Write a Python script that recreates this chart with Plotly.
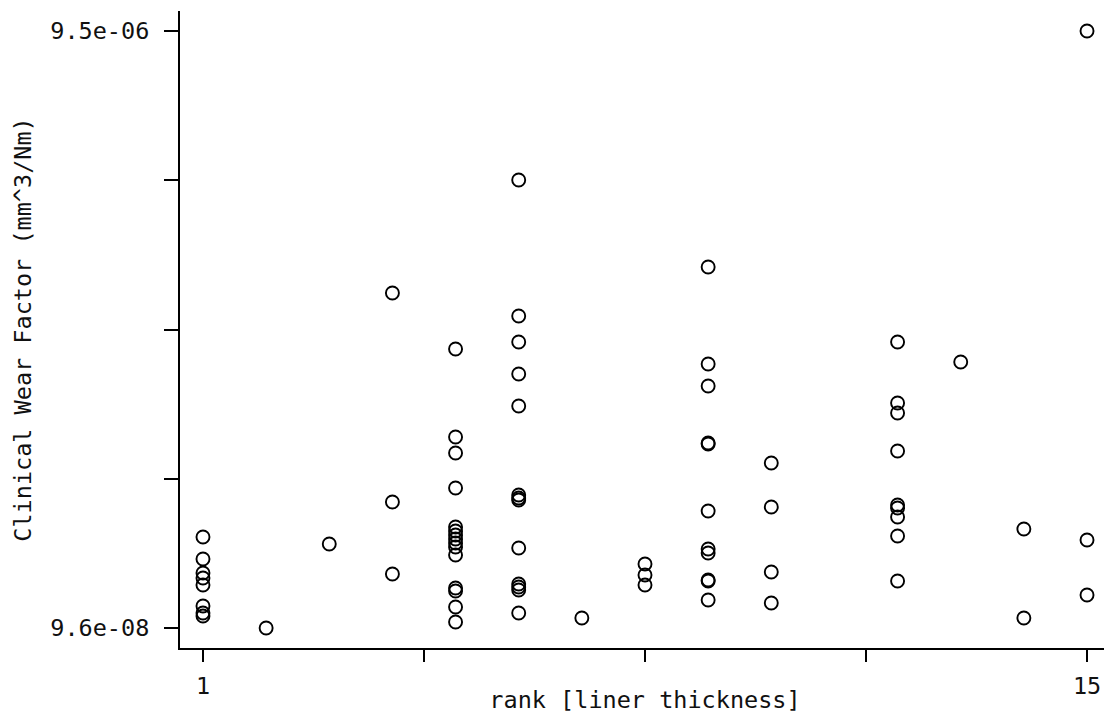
import plotly.graph_objects as go

# rank [liner thickness] per group, and wear factors (in units of 1e-6 mm^3/Nm)
ranks = [1, 2, 3, 4, 5, 6, 7, 8, 9, 10, 12, 13, 14, 15]
wear_e6 = [
    [1.529, 1.183, 0.962, 0.884, 0.773, 0.443, 0.332, 0.285],
    [0.096],
    [1.419],
    [5.373, 2.081, 0.947],
    [4.491, 3.105, 2.853, 2.301, 1.687, 1.624, 1.561, 1.498, 1.435, 1.372, 1.246,
     0.726, 0.679, 0.427, 0.190],
    [7.153, 5.011, 4.601, 4.097, 3.593, 2.191, 2.144, 2.112, 1.356, 0.789, 0.742,
     0.695, 0.332],
    [0.254],
    [1.104, 0.931, 0.773],
    [5.783, 4.255, 3.908, 3.010, 2.994, 1.939, 1.340, 1.277, 0.852, 0.836, 0.537],
    [2.695, 2.002, 0.978, 0.490],
    [4.601, 3.640, 3.483, 2.884, 2.033, 1.986, 1.844, 1.545, 0.836],
    [4.286],
    [1.655, 0.254],
    [9.500, 1.482, 0.616],
]

x_ticks = [1, 4.5, 8, 11.5, 15]
x_ticklabels = ["1", "", "", "", "15"]
y_ticks = [9.6e-08, 2.447e-06, 4.798e-06, 7.149e-06, 9.5e-06]
y_ticklabels = ["9.6e-08", "", "", "", "9.5e-06"]

xs, ys = [], []
for r, vals in zip(ranks, wear_e6):
    for v in vals:
        xs.append(r)
        ys.append(v * 1e-6)

FONT = "DejaVu Sans Mono"
FS = 23.5

fig = go.Figure()
fig.add_trace(go.Scatter(
    x=xs, y=ys, mode="markers",
    marker=dict(symbol="circle-open", size=13, color="black",
                line=dict(width=1.9, color="black")),
    showlegend=False,
))

# the page body has an 8px margin, so the figure is sized to fit the window
fig.update_layout(
    width=1104, height=706,
    margin=dict(l=172, r=2, t=3, b=66),
    paper_bgcolor="white", plot_bgcolor="white",
    font=dict(family=FONT, size=FS, color="#111"),
)
fig.update_xaxes(
    range=[0.636, 15.364], automargin=False,
    tickmode="array", tickvals=x_ticks, ticktext=x_ticklabels,
    ticks="outside", ticklen=12, tickwidth=1.5, tickcolor="black",
    ticklabelstandoff=4,
    showline=True, linecolor="black", linewidth=2,
    showgrid=False, zeroline=False,
    title=dict(text="rank [liner thickness]", font=dict(family=FONT, size=FS), standoff=2),
)
fig.update_yaxes(
    range=[-0.219e-6, 9.815e-6], automargin=False,
    tickmode="array", tickvals=y_ticks, ticktext=y_ticklabels,
    ticks="outside", ticklen=14, tickwidth=1.5, tickcolor="black",
    ticklabelstandoff=10,
    showline=True, linecolor="black", linewidth=2,
    showgrid=False, zeroline=False,
    title=dict(text="Clinical Wear Factor (mm^3/Nm)", font=dict(family=FONT, size=FS), standoff=12),
)

fig.write_html("out.html")
